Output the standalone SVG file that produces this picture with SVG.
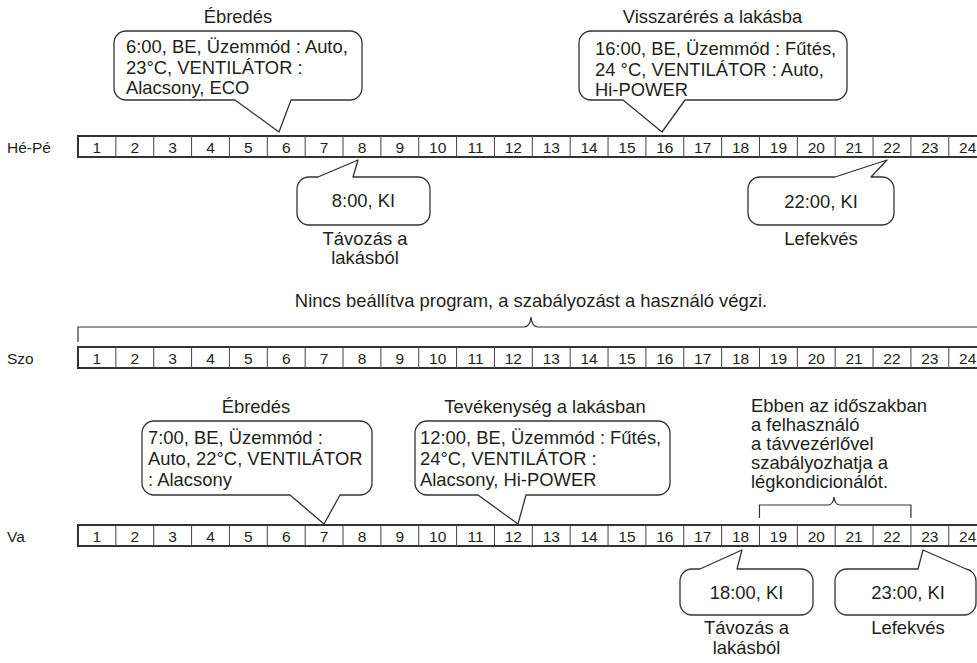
<svg xmlns="http://www.w3.org/2000/svg" width="977" height="663" viewBox="0 0 977 663">
<style>
text{font-family:"Liberation Sans",Arial,sans-serif;fill:#231f20}
.t{font-size:18.4px}
.c{font-size:18.4px;text-anchor:middle}
.n{font-size:15.5px;text-anchor:middle}
.lab{font-size:15.5px}
.box{fill:#fff;stroke:#333;stroke-width:1.3;stroke-linejoin:round}
.frame{fill:none;stroke:#333;stroke-width:2}
.div{fill:none;stroke:#444;stroke-width:1}
.brace{fill:none;stroke:#333;stroke-width:1.2}
</style>
<rect width="977" height="663" fill="#fff"/>

<g id="row-hepe">
<text class="lab" x="7" y="153">Hé-Pé</text>
<g transform="translate(0,136)">
<rect class="frame" x="78" y="0" width="908.64" height="21"/>
<path class="div" d="M115.86,0V21M153.72,0V21M191.58,0V21M229.44,0V21M267.3,0V21M305.16,0V21M343.02,0V21M380.88,0V21M418.74,0V21M456.6,0V21M494.46,0V21M532.32,0V21M570.18,0V21M608.04,0V21M645.9,0V21M683.76,0V21M721.62,0V21M759.48,0V21M797.34,0V21M835.2,0V21M873.06,0V21M910.92,0V21M948.78,0V21"/>
<text class="n" x="96.93" y="17">1</text><text class="n" x="134.79" y="17">2</text><text class="n" x="172.65" y="17">3</text><text class="n" x="210.51" y="17">4</text><text class="n" x="248.37" y="17">5</text><text class="n" x="286.23" y="17">6</text><text class="n" x="324.09" y="17">7</text><text class="n" x="361.95" y="17">8</text><text class="n" x="399.81" y="17">9</text><text class="n" x="437.67" y="17">10</text><text class="n" x="475.53" y="17">11</text><text class="n" x="513.39" y="17">12</text><text class="n" x="551.25" y="17">13</text><text class="n" x="589.11" y="17">14</text><text class="n" x="626.97" y="17">15</text><text class="n" x="664.83" y="17">16</text><text class="n" x="702.69" y="17">17</text><text class="n" x="740.55" y="17">18</text><text class="n" x="778.41" y="17">19</text><text class="n" x="816.27" y="17">20</text><text class="n" x="854.13" y="17">21</text><text class="n" x="891.99" y="17">22</text><text class="n" x="929.85" y="17">23</text><text class="n" x="967.71" y="17">24</text>
</g>
</g>

<g id="row-szo">
<text class="lab" x="7" y="364">Szo</text>
<g transform="translate(0,347)">
<rect class="frame" x="78" y="0" width="908.64" height="21"/>
<path class="div" d="M115.86,0V21M153.72,0V21M191.58,0V21M229.44,0V21M267.3,0V21M305.16,0V21M343.02,0V21M380.88,0V21M418.74,0V21M456.6,0V21M494.46,0V21M532.32,0V21M570.18,0V21M608.04,0V21M645.9,0V21M683.76,0V21M721.62,0V21M759.48,0V21M797.34,0V21M835.2,0V21M873.06,0V21M910.92,0V21M948.78,0V21"/>
<text class="n" x="96.93" y="17">1</text><text class="n" x="134.79" y="17">2</text><text class="n" x="172.65" y="17">3</text><text class="n" x="210.51" y="17">4</text><text class="n" x="248.37" y="17">5</text><text class="n" x="286.23" y="17">6</text><text class="n" x="324.09" y="17">7</text><text class="n" x="361.95" y="17">8</text><text class="n" x="399.81" y="17">9</text><text class="n" x="437.67" y="17">10</text><text class="n" x="475.53" y="17">11</text><text class="n" x="513.39" y="17">12</text><text class="n" x="551.25" y="17">13</text><text class="n" x="589.11" y="17">14</text><text class="n" x="626.97" y="17">15</text><text class="n" x="664.83" y="17">16</text><text class="n" x="702.69" y="17">17</text><text class="n" x="740.55" y="17">18</text><text class="n" x="778.41" y="17">19</text><text class="n" x="816.27" y="17">20</text><text class="n" x="854.13" y="17">21</text><text class="n" x="891.99" y="17">22</text><text class="n" x="929.85" y="17">23</text><text class="n" x="967.71" y="17">24</text>
</g>
</g>

<g id="row-va">
<text class="lab" x="7" y="542">Va</text>
<g transform="translate(0,525)">
<rect class="frame" x="78" y="0" width="908.64" height="21"/>
<path class="div" d="M115.86,0V21M153.72,0V21M191.58,0V21M229.44,0V21M267.3,0V21M305.16,0V21M343.02,0V21M380.88,0V21M418.74,0V21M456.6,0V21M494.46,0V21M532.32,0V21M570.18,0V21M608.04,0V21M645.9,0V21M683.76,0V21M721.62,0V21M759.48,0V21M797.34,0V21M835.2,0V21M873.06,0V21M910.92,0V21M948.78,0V21"/>
<text class="n" x="96.93" y="17">1</text><text class="n" x="134.79" y="17">2</text><text class="n" x="172.65" y="17">3</text><text class="n" x="210.51" y="17">4</text><text class="n" x="248.37" y="17">5</text><text class="n" x="286.23" y="17">6</text><text class="n" x="324.09" y="17">7</text><text class="n" x="361.95" y="17">8</text><text class="n" x="399.81" y="17">9</text><text class="n" x="437.67" y="17">10</text><text class="n" x="475.53" y="17">11</text><text class="n" x="513.39" y="17">12</text><text class="n" x="551.25" y="17">13</text><text class="n" x="589.11" y="17">14</text><text class="n" x="626.97" y="17">15</text><text class="n" x="664.83" y="17">16</text><text class="n" x="702.69" y="17">17</text><text class="n" x="740.55" y="17">18</text><text class="n" x="778.41" y="17">19</text><text class="n" x="816.27" y="17">20</text><text class="n" x="854.13" y="17">21</text><text class="n" x="891.99" y="17">22</text><text class="n" x="929.85" y="17">23</text><text class="n" x="967.71" y="17">24</text>
</g>
</g>

<g id="connectors">
<path class="brace" d="M78,342V327H524Q530,327 531,317Q532,327 538,327H986.64V342"/>
<path class="brace" d="M759.48,518V505H828Q833,505 834,497Q835,505 840,505H910.92V518"/>
</g>

<g id="callout-6">
<text class="c" x="238" y="23">Ébredés</text>
<path class="box" d="M126,31H350A12,12 0 0 1 362,43V88A12,12 0 0 1 350,100H291L279,132L235,100H126A12,12 0 0 1 114,88V43A12,12 0 0 1 126,31Z"/>
<text class="t" x="126" y="53">6:00, BE, Üzemmód : Auto,</text>
<text class="t" x="126" y="73.5">23°C, VENTILÁTOR :</text>
<text class="t" x="126" y="94">Alacsony, ECO</text>
</g>

<g id="callout-16">
<text class="c" x="712.5" y="23">Visszarérés a lakásba</text>
<path class="box" d="M591,31H835A12,12 0 0 1 847,43V88A12,12 0 0 1 835,100H685L662,132L623,100H591A12,12 0 0 1 579,88V43A12,12 0 0 1 591,31Z"/>
<text class="t" x="595" y="55">16:00, BE, Üzemmód : Fűtés,</text>
<text class="t" x="595" y="75.5">24 °C, VENTILÁTOR : Auto,</text>
<text class="t" x="595" y="96">Hi-POWER</text>
</g>

<g id="callout-8">
<path class="box" d="M309,177H318L358,160L353,177H418A12,12 0 0 1 430,189V213A12,12 0 0 1 418,225H309A12,12 0 0 1 297,213V189A12,12 0 0 1 309,177Z"/>
<text class="c" x="363.5" y="207">8:00, KI</text>
<text class="c" x="365" y="245">Távozás a</text>
<text class="c" x="365" y="264">lakásból</text>
</g>

<g id="callout-22">
<path class="box" d="M760,177H835L887,160L871,177H882A12,12 0 0 1 894,189V213A12,12 0 0 1 882,225H760A12,12 0 0 1 748,213V189A12,12 0 0 1 760,177Z"/>
<text class="c" x="821" y="208">22:00, KI</text>
<text class="c" x="821" y="245">Lefekvés</text>
</g>

<text class="c" x="531" y="307">Nincs beállítva program, a szabályozást a használó végzi.</text>

<g id="callout-7">
<text class="c" x="256" y="413">Ébredés</text>
<path class="box" d="M154,421H360A12,12 0 0 1 372,433V483A12,12 0 0 1 360,495H340L324,524L290,495H154A12,12 0 0 1 142,483V433A12,12 0 0 1 154,421Z"/>
<text class="t" x="148" y="444">7:00, BE, Üzemmód :</text>
<text class="t" x="148" y="465">Auto, 22°C, VENTILÁTOR</text>
<text class="t" x="148" y="486">: Alacsony</text>
</g>

<g id="callout-12">
<text class="c" x="545" y="413">Tevékenység a lakásban</text>
<path class="box" d="M427,421H658A12,12 0 0 1 670,433V483A12,12 0 0 1 658,495H526L518,524L478,495H427A12,12 0 0 1 415,483V433A12,12 0 0 1 427,421Z"/>
<text class="t" x="420" y="444">12:00, BE, Üzemmód : Fűtés,</text>
<text class="t" x="420" y="465">24°C, VENTILÁTOR :</text>
<text class="t" x="420" y="486">Alacsony, Hi-POWER</text>
</g>

<g id="note-remote">
<text class="t" x="751" y="412">Ebben az időszakban</text>
<text class="t" x="751" y="431">a felhasználó</text>
<text class="t" x="751" y="450">a távvezérlővel</text>
<text class="t" x="751" y="469">szabályozhatja a</text>
<text class="t" x="751" y="488">légkondicionálót.</text>
</g>

<g id="callout-18">
<path class="box" d="M692,569H700L742,550L737,569H801A12,12 0 0 1 813,581V603A12,12 0 0 1 801,615H692A12,12 0 0 1 680,603V581A12,12 0 0 1 692,569Z"/>
<text class="c" x="746.5" y="599">18:00, KI</text>
<text class="c" x="746.5" y="634">Távozás a</text>
<text class="c" x="746.5" y="654">lakásból</text>
</g>

<g id="callout-23">
<path class="box" d="M847,569H918L923,550L966,569A12,12 0 0 1 976,581V603A12,12 0 0 1 964,615H847A12,12 0 0 1 835,603V581A12,12 0 0 1 847,569Z"/>
<text class="c" x="908" y="599">23:00, KI</text>
<text class="c" x="908" y="634">Lefekvés</text>
</g>
</svg>
